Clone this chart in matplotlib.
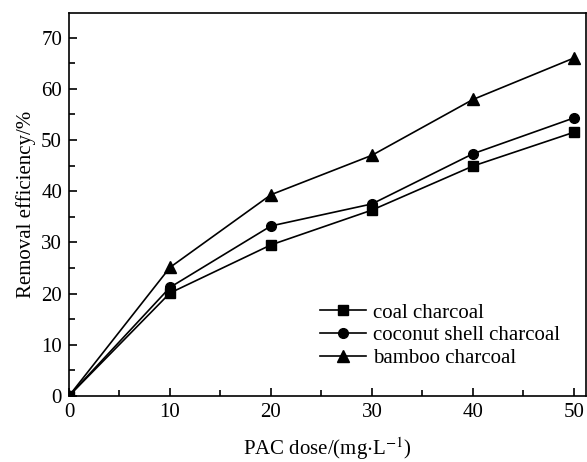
import matplotlib.pyplot as plt
from matplotlib.ticker import MultipleLocator

plt.rcParams["font.family"] = ["Liberation Serif", "DejaVu Serif"]
plt.rcParams["mathtext.fontset"] = "stix"

dose = [0, 10, 20, 30, 40, 50]
coal = [0, 20.1, 29.5, 36.3, 44.9, 51.5]
coconut = [0, 21.2, 33.2, 37.5, 47.3, 54.3]
bamboo = [0, 25.1, 39.3, 47.0, 57.9, 66.0]

fig = plt.figure(figsize=(5.87, 4.62), dpi=100)
ax = fig.add_axes([0.1175, 0.143, 0.881, 0.829])

ax.plot(dose, coal, "k-", marker="s", markersize=6.5, linewidth=1.2, label="coal charcoal")
ax.plot(dose, coconut, "k-", marker="o", markersize=7, linewidth=1.2, label="coconut shell charcoal")
ax.plot(dose, bamboo, "k-", marker="^", markersize=8, linewidth=1.2, label="bamboo charcoal")

ax.set_xlim(0, 51.2)
ax.set_ylim(0, 74.8)
ax.xaxis.set_major_locator(MultipleLocator(10))
ax.xaxis.set_minor_locator(MultipleLocator(5))
ax.yaxis.set_major_locator(MultipleLocator(10))
ax.yaxis.set_minor_locator(MultipleLocator(5))
ax.tick_params(which="both", direction="in", top=False, right=False, labelsize=15, width=1.2)
ax.tick_params(which="major", length=6, pad=5)
ax.tick_params(which="minor", length=4)
for s in ax.spines.values():
    s.set_linewidth(1.2)

ax.set_xlabel(r"PAC dose/(mg$\cdot$L$^{-1}$)", fontsize=15, labelpad=10)
ax.set_ylabel("Removal efficiency/%", fontsize=15, labelpad=4)

ax.legend(loc="center left", bbox_to_anchor=(0.45, 0.158), frameon=False, fontsize=15,
          handlelength=2.2, handletextpad=0.3, labelspacing=0.15)

fig.savefig("out.png", dpi=100)
